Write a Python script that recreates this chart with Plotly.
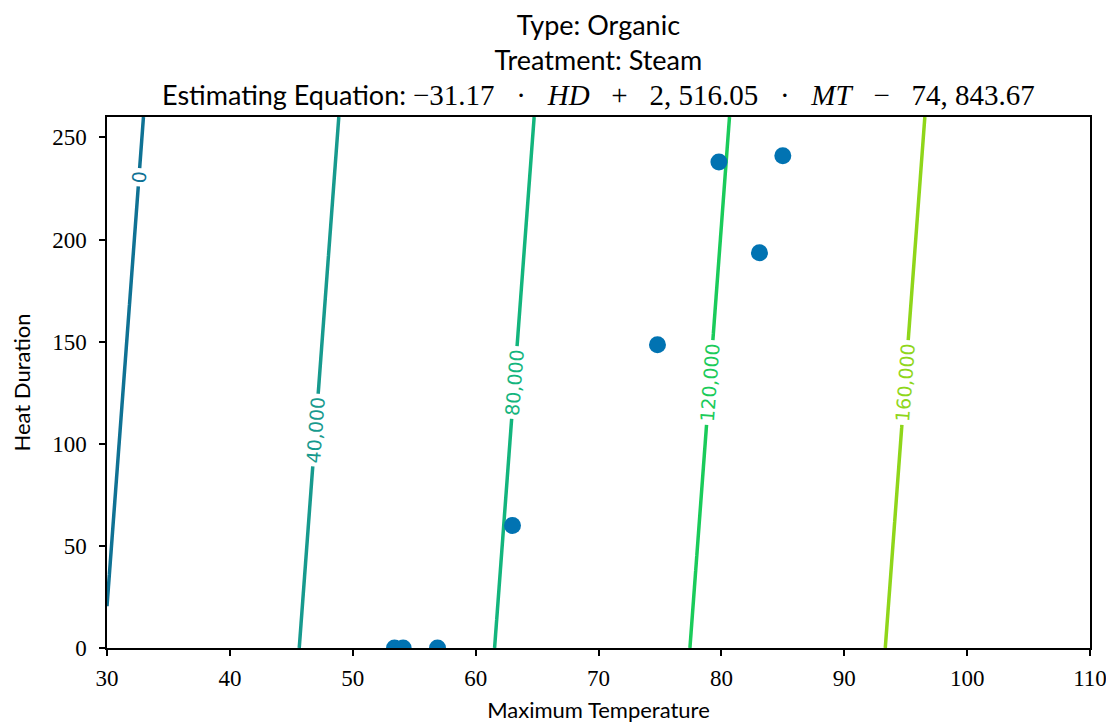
import numpy as np
import plotly.graph_objects as go

# fitted model: value = HD_COEF * HD + MT_COEF * MT + INTERCEPT
HD_COEF = -31.17
MT_COEF = 2516.05
INTERCEPT = -74843.67

contour_levels = [0, 40000, 80000, 120000, 160000]
level_colors = ['#0f7294', '#179a8e', '#13b57d', '#1acb5a', '#8fd61a']

max_temp = [53.4, 54.1, 56.9, 63.0, 74.8, 79.8, 83.1, 85.0]
heat_duration = [0, 0, 0, 60, 148.5, 238, 193.5, 241]

mt_grid = np.linspace(30, 110, 161)
hd_grid = np.linspace(0, 260, 131)
MT, HD = np.meshgrid(mt_grid, hd_grid)
Z = HD_COEF * HD + MT_COEF * MT + INTERCEPT

n = len(contour_levels) - 1
colorscale = [[i / n, c] for i, c in enumerate(level_colors)]

fig = go.Figure()
fig.add_trace(go.Contour(
    x=mt_grid, y=hd_grid, z=Z,
    zmin=contour_levels[0], zmax=contour_levels[-1],
    autocontour=False,
    contours=dict(start=contour_levels[0], end=contour_levels[-1],
                  size=contour_levels[1] - contour_levels[0],
                  coloring='lines', showlabels=True, labelformat=',d',
                  labelfont=dict(size=19, family='DejaVu Sans')),
    colorscale=colorscale,
    line=dict(width=3.5),
    showscale=False,
    hoverinfo='skip',
))
fig.add_trace(go.Scatter(
    x=max_temp, y=heat_duration, mode='markers',
    marker=dict(size=17, color='#0173b2'),
    showlegend=False,
))

sp = '&nbsp;' * 3
eq = ('<span style="font-family:Liberation Serif;font-size:29px">&#8722;31.17' + sp + '&#183;' + sp
      + '<i>HD</i>' + sp + '+' + sp + '2,&nbsp;516.05' + sp + '&#183;' + sp + '<i>MT</i>'
      + sp + '&#8722;' + sp + '74,&nbsp;843.67</span>')
fig.add_annotation(
    text='Type: Organic<br>Treatment: Steam<br>Estimating Equation:&nbsp;' + eq,
    x=0.5, xref='paper', xanchor='center', y=1, yref='paper', yanchor='bottom',
    yshift=4, showarrow=False,
    font=dict(family='Lato', size=27, color='black'),
)
# the page body adds an 8px offset, so the figure is sized to fit the window
fig.update_layout(
    width=1106, height=719,
    margin=dict(l=99, r=24, t=109, b=79),
    plot_bgcolor='white', paper_bgcolor='white',
    showlegend=False,
    font=dict(color='black'),
)
axis_style = dict(showgrid=False, zeroline=False, showline=True, linecolor='black',
                  linewidth=1.5, mirror=True, ticks='outside', ticklen=6, tickwidth=1.5,
                  tickcolor='black', automargin=False,
                  tickfont=dict(family='Liberation Serif', size=23, color='black'))
fig.update_xaxes(range=[30, 110], dtick=10, ticklabelstandoff=3,
                 title=dict(text='Maximum Temperature', standoff=12,
                            font=dict(family='Lato', size=22)),
                 **axis_style)
fig.update_yaxes(range=[0, 260], dtick=50, ticklabelstandoff=8,
                 title=dict(text='Heat Duration', standoff=16,
                            font=dict(family='Lato', size=22)),
                 **axis_style)

fig.write_html("out.html")
